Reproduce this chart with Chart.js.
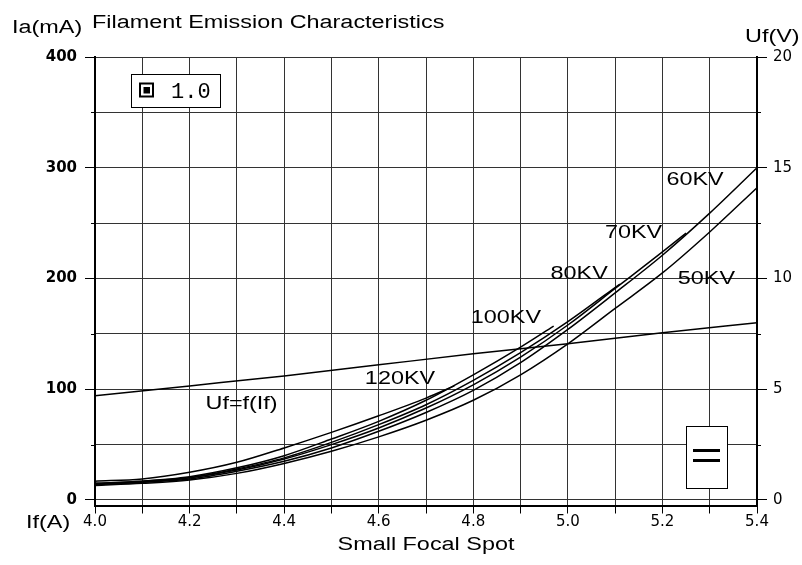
<!DOCTYPE html>
<html>
<head>
<meta charset="utf-8">
<script src="https://cdn.jsdelivr.net/npm/chart.js@4.4.1/dist/chart.umd.min.js"></script>
<style>
  html, body { margin: 0; padding: 0; background: #fff; }
  #wrap { width: 802px; height: 565px; }
</style>
</head>
<body>
<div id="wrap"><canvas id="emission" width="802" height="565"></canvas></div>
<script>
// filament current (A) and emission current (mA) per tube voltage
const ifFull = [4.0, 4.1, 4.2, 4.3, 4.4, 4.5, 4.6, 4.7, 4.8, 4.9, 5.0, 5.1, 5.2, 5.3, 5.4];
const ia50 = [13, 15, 18, 24, 33, 44, 57, 72, 90, 113, 141, 173, 205, 242, 282];
const ia60 = [14, 16, 19, 26, 35, 47, 62, 79, 99, 124, 154, 187, 221, 259, 300];

const if70 = [4.0, 4.1, 4.2, 4.3, 4.4, 4.5, 4.6, 4.7, 4.8, 4.9, 5.0, 5.1, 5.2, 5.25];
const ia70 = [14, 16, 20, 27, 37, 50, 65, 83, 104, 129, 158, 191, 224, 241];

const if80 = [4.0, 4.1, 4.2, 4.3, 4.4, 4.5, 4.6, 4.7, 4.8, 4.9, 5.0, 5.11];
const ia80 = [15, 17, 20, 28, 38, 52, 68, 86, 108, 133, 161, 195];

const if100 = [4.0, 4.1, 4.2, 4.3, 4.4, 4.5, 4.6, 4.7, 4.8, 4.9, 4.97];
const ia100 = [15, 17, 21, 29, 40, 55, 71, 90, 113, 138, 157];

const if120 = [4.0, 4.1, 4.2, 4.3, 4.4, 4.5, 4.6, 4.7, 4.76];
const ia120 = [17, 19, 25, 34, 47, 61, 76, 92, 103];

// filament voltage Uf = f(If), right axis
const ifUf = [4.0, 4.2, 4.4, 4.6, 4.8, 5.0, 5.2, 5.4];
const ufVolts = [4.7, 5.15, 5.6, 6.1, 6.6, 7.05, 7.55, 8.0];

// axis ticks
const ifTicks = [4.0, 4.1, 4.2, 4.3, 4.4, 4.5, 4.6, 4.7, 4.8, 4.9, 5.0, 5.1, 5.2, 5.3, 5.4];
const iaTicks = [0, 50, 100, 150, 200, 250, 300, 350, 400];
const ufTicks = [0, 2.5, 5, 7.5, 10, 12.5, 15, 17.5, 20];

function pts(xs, ys) {
  return xs.map(function (x, i) { return { x: x, y: ys[i] }; });
}

function curve(label, xs, ys, axis) {
  return {
    label: label,
    data: pts(xs, ys),
    yAxisID: axis || 'y',
    borderColor: '#000',
    borderWidth: 1.5,
    pointRadius: 0,
    fill: false,
    cubicInterpolationMode: 'monotone'
  };
}

const STRETCH = 1.3;
function wideText(ctx, str, x, y, align) {
  ctx.save();
  ctx.translate(x, y);
  ctx.scale(STRETCH, 1);
  ctx.textAlign = align || 'left';
  ctx.textBaseline = 'alphabetic';
  ctx.fillText(str, 0, 0);
  ctx.restore();
}

// labels, boxes, minor ticks
const decorations = {
  id: 'decorations',
  afterDraw: function (chart) {
    const ctx = chart.ctx;
    const xs = chart.scales.x, ys = chart.scales.y;
    const area = chart.chartArea;
    ctx.save();
    ctx.fillStyle = '#000';
    ctx.strokeStyle = '#000';

    // minor tick marks
    ctx.lineWidth = 1;
    iaTicks.forEach(function (v) {
      if (v % 100 !== 0) {
        const p = Math.round(ys.getPixelForValue(v)) + 0.5;
        ctx.beginPath(); ctx.moveTo(area.left - 4, p); ctx.lineTo(area.left, p); ctx.stroke();
        ctx.beginPath(); ctx.moveTo(area.right, p); ctx.lineTo(area.right + 4, p); ctx.stroke();
      }
    });

    ctx.font = '18px "Liberation Sans", Arial, sans-serif';
    wideText(ctx, 'Filament Emission Characteristics', 92, 28);
    wideText(ctx, 'Ia(mA)', 12, 33);
    wideText(ctx, 'Uf(V)', 745, 42);
    wideText(ctx, 'If(A)', 26, 528);
    wideText(ctx, 'Small Focal Spot', (area.left + area.right) / 2, 550, 'center');

    // curve labels anchored in data space
    const labels = [
      ['60KV', 5.269, 290], ['70KV', 5.139, 242], ['50KV', 5.293, 201],
      ['80KV', 5.024, 205], ['100KV', 4.869, 166], ['120KV', 4.645, 111],
      ['Uf=f(If)', 4.31, 88]
    ];
    labels.forEach(function (l) {
      wideText(ctx, l[0], xs.getPixelForValue(l[1]), ys.getPixelForValue(l[2]) + 6.5, 'center');
    });

    // top-left legend box
    ctx.fillStyle = '#fff';
    ctx.fillRect(131, 74, 89, 33);
    ctx.lineWidth = 1;
    ctx.strokeRect(131.5, 74.5, 89, 33);
    ctx.lineWidth = 2;
    ctx.strokeRect(140, 83.5, 13, 13);
    ctx.fillStyle = '#000';
    ctx.fillRect(143.5, 87, 6.5, 6.5);
    ctx.font = '22px "Liberation Mono", "DejaVu Sans Mono", monospace';
    ctx.textAlign = 'left';
    ctx.fillText('1.0', 171, 98);

    // bottom-right "=" box
    ctx.fillStyle = '#fff';
    ctx.fillRect(686, 426, 41, 62);
    ctx.lineWidth = 1;
    ctx.strokeRect(686.5, 426.5, 41, 62);
    ctx.fillStyle = '#000';
    ctx.fillRect(693, 449, 27, 3);
    ctx.fillRect(693, 459, 27, 3);

    ctx.restore();
  }
};

const ctx = document.getElementById('emission').getContext('2d');

new Chart(ctx, {
  type: 'line',
  data: {
    datasets: [
      curve('50KV', ifFull, ia50),
      curve('60KV', ifFull, ia60),
      curve('70KV', if70, ia70),
      curve('80KV', if80, ia80),
      curve('100KV', if100, ia100),
      curve('120KV', if120, ia120),
      curve('Uf=f(If)', ifUf, ufVolts, 'y2')
    ]
  },
  options: {
    responsive: false,
    animation: false,
    layout: { padding: { top: 57, left: 0, right: 0, bottom: 0 } },
    plugins: {
      legend: { display: false },
      tooltip: { enabled: false }
    },
    scales: {
      x: {
        type: 'linear',
        min: 4.0,
        max: 5.4,
        afterBuildTicks: function (s) { s.ticks = ifTicks.map(function (v) { return { value: v }; }); },
        afterFit: function (s) { s.height = 59.5; },
        border: { color: '#000', width: 2 },
        grid: { color: '#333', lineWidth: 1, tickLength: 8, tickColor: '#000' },
        ticks: {
          autoSkip: false,
          maxRotation: 0,
          padding: 0,
          color: '#000',
          font: { family: '"DejaVu Sans", sans-serif', size: 15 },
          callback: function (v) {
            const r = Math.round(v * 10);
            return r % 2 === 0 ? (r / 10).toFixed(1) : '';
          }
        }
      },
      y: {
        position: 'left',
        min: -5,
        max: 400,
        afterBuildTicks: function (s) { s.ticks = iaTicks.map(function (v) { return { value: v }; }); },
        afterFit: function (s) { s.width = 95; },
        border: { color: '#000', width: 2 },
        grid: {
          color: '#333',
          lineWidth: 1,
          tickLength: 10,
          tickColor: function (c) { return c.tick && c.tick.value % 100 === 0 ? '#000' : 'rgba(0,0,0,0)'; }
        },
        ticks: {
          padding: 8,
          color: '#000',
          font: { family: '"DejaVu Sans", sans-serif', size: 15, weight: 'bold' },
          callback: function (v) { return v % 100 === 0 ? String(v) : ''; }
        }
      },
      y2: {
        position: 'right',
        min: -0.25,
        max: 20,
        afterBuildTicks: function (s) { s.ticks = ufTicks.map(function (v) { return { value: v }; }); },
        afterFit: function (s) { s.width = 45; },
        border: { color: '#000', width: 2 },
        grid: {
          drawOnChartArea: false,
          tickLength: 10,
          tickColor: function (c) { return c.tick && c.tick.value % 5 === 0 ? '#000' : 'rgba(0,0,0,0)'; }
        },
        ticks: {
          padding: 6,
          color: '#000',
          font: { family: '"DejaVu Sans", sans-serif', size: 15 },
          callback: function (v) { return v % 5 === 0 ? String(v) : ''; }
        }
      }
    }
  },
  plugins: [decorations]
});
</script>
</body>
</html>
